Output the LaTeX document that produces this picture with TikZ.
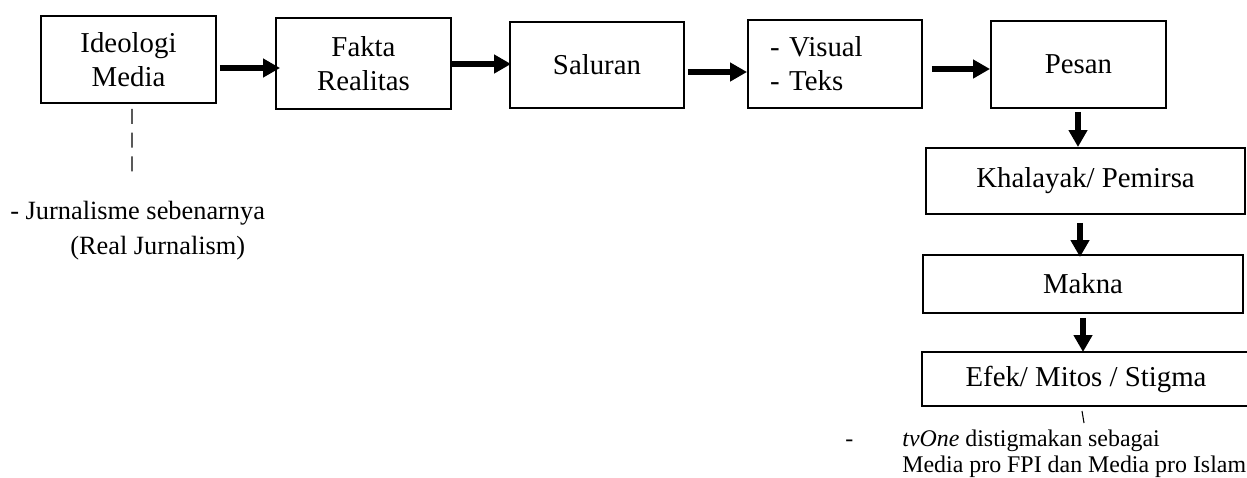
\documentclass[tikz,border=0pt]{standalone}
\usepackage{fontspec}
\setmainfont{Liberation Serif}
\usetikzlibrary{arrows.meta}

\tikzset{
	box/.style={draw, line width=1.1pt, align=center, inner sep=0pt, font=\fontsize{16.4}{19.5}\selectfont},
	fat/.style={line width=0.12cm, -{Triangle[length=0.34cm,width=0.36cm]}},
	note/.style={anchor=west, inner sep=0pt, align=left}
}

\begin{document}
\begin{tikzpicture}[x=0.02cm,y=-0.02cm]
		\useasboundingbox (0,0) rectangle (1247,477);
		\node[box, minimum width=3.5cm, minimum height=1.74cm] (ideo) at (128.5,59.5) {Ideologi\\Media};
		\node[box, minimum width=3.5cm, minimum height=1.82cm] (fakta) at (363.5,63.5) {Fakta\\Realitas};
		\node[box, minimum width=3.48cm, minimum height=1.72cm] (saluran) at (597,65) {Saluran};
		\node[box, align=left, text width=2.6cm, inner xsep=0.44cm, minimum height=1.76cm] (visual) at (835,64) {- Visual\\- Teks};
		\node[box, minimum width=3.5cm, minimum height=1.74cm] (pesan) at (1078.5,64.5) {Pesan};
		\node[box, minimum width=6.38cm, minimum height=1.32cm] (khalayak) at (1085.5,181) {Khalayak/ Pemirsa};
		\node[box, minimum width=6.4cm, minimum height=1.16cm] (makna) at (1083,284) {Makna};
		\node[box, minimum width=6.56cm, minimum height=1.08cm] (efek) at (1086,379) {Efek/ Mitos / Stigma};
		\node[note, font=\fontsize{15}{20}\selectfont] (jurnal) at (10,231) {- Jurnalisme sebenarnya\\\hspace*{1.2cm}(Real Jurnalism)};
		\node[note, font=\fontsize{13.6}{14.8}\selectfont] (stigma) at (902,453.5) {\llap{-\hspace*{0.98cm}}\textit{tvOne} distigmakan sebagai\\Media pro FPI dan Media pro Islam};
		\coordinate (jtip) at (132,172);
		\coordinate (ttip) at (1084,423);
		\draw[fat, shorten <=0.06cm, shorten >=-0.1cm] (ideo.east |- 0,68) -- (fakta.west |- 0,68);
		\draw[fat, shorten >=-0.04cm] (fakta.east |- 0,64) -- (saluran.west |- 0,64);
		\draw[fat, shorten <=0.06cm] (saluran.east |- 0,72) -- (visual.west |- 0,72);
		\draw[fat, shorten <=0.18cm] (visual.east |- 0,69) -- (pesan.west |- 0,69);
		\draw[fat, shorten <=0.06cm] (pesan.south -| 1078,0) -- (khalayak.north -| 1078,0);
		\draw[fat, shorten <=0.16cm, shorten >=-0.06cm] (khalayak.south -| 1080,0) -- (makna.north -| 1080,0);
		\draw[fat, shorten <=0.08cm, shorten >=-0.02cm] (makna.south -| 1083,0) -- (efek.north -| 1083,0);
		\draw[line width=0.6pt, dash pattern=on 8.5pt off 5pt] ([shift={(3.5,5)}]ideo.south) -- (jtip);
		\draw[line width=0.6pt] ([shift={(-4,4)}]efek.south) -- (ttip);
\end{tikzpicture}
\end{document}
